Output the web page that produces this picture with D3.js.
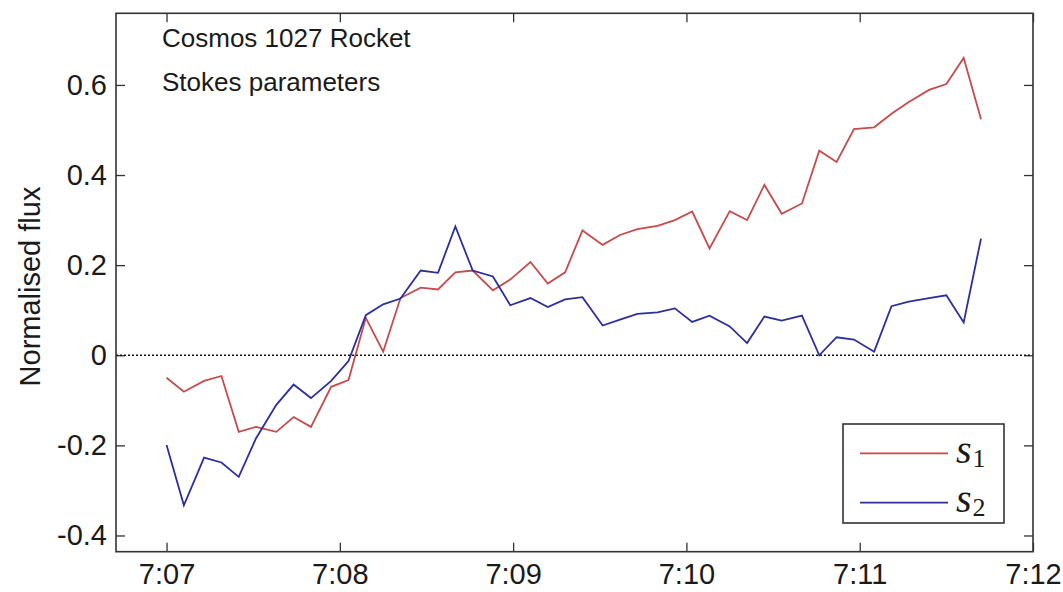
<!DOCTYPE html>
<html>
<head>
<meta charset="utf-8">
<script src="https://cdn.jsdelivr.net/npm/d3@7"></script>
<style>
  html, body { margin: 0; padding: 0; background: #fff; }
  svg { display: block; }
  .sans { font-family: "Liberation Sans", Arial, Helvetica, sans-serif; fill: #1a1a1a; }
  .math { font-family: "Liberation Serif", "DejaVu Serif", serif; fill: #1a1a1a; }
</style>
</head>
<body>
<svg id="chart" width="1063" height="592"></svg>
<script>
// Sample times (UT) of the Stokes parameter measurements
const times = [
  "07:07:00","07:07:06","07:07:13","07:07:19","07:07:25","07:07:31","07:07:38","07:07:44",
  "07:07:50","07:07:57","07:08:03","07:08:09","07:08:15","07:08:21","07:08:28","07:08:34",
  "07:08:40","07:08:46","07:08:53","07:08:59","07:09:06","07:09:12","07:09:18","07:09:24",
  "07:09:31","07:09:37","07:09:43","07:09:50","07:09:56","07:10:02","07:10:08","07:10:15",
  "07:10:21","07:10:27","07:10:33","07:10:40","07:10:46","07:10:52","07:10:58","07:11:05",
  "07:11:11","07:11:17","07:11:24","07:11:30","07:11:36","07:11:42"
];

// Normalised Stokes parameter s1
const s1 = [
  -0.050, -0.081, -0.057, -0.046, -0.170, -0.159, -0.170, -0.137,
  -0.159, -0.070, -0.055,  0.083,  0.008,  0.127,  0.150,  0.146,
   0.184,  0.188,  0.144,  0.168,  0.207,  0.159,  0.184,  0.277,
   0.245,  0.267,  0.280,  0.287,  0.300,  0.319,  0.237,  0.320,
   0.300,  0.378,  0.314,  0.337,  0.454,  0.429,  0.502,  0.506,
   0.536,  0.562,  0.589,  0.602,  0.660,  0.524
];

// Normalised Stokes parameter s2
const s2 = [
  -0.199, -0.333, -0.227, -0.238, -0.270, -0.184, -0.110, -0.065,
  -0.095, -0.057, -0.013,  0.089,  0.113,  0.126,  0.188,  0.183,
   0.286,  0.188,  0.175,  0.111,  0.127,  0.107,  0.124,  0.129,
   0.066,  0.079,  0.092,  0.095,  0.104,  0.074,  0.088,  0.064,
   0.027,  0.086,  0.077,  0.088,  0.000,  0.040,  0.035,  0.008,
   0.109,  0.119,  0.127,  0.133,  0.073,  0.259
];

const yTicks = [-0.4, -0.2, 0, 0.2, 0.4, 0.6];
const yTickLabels = ["-0.4", "-0.2", "0", "0.2", "0.4", "0.6"];
const xTicks = ["07:07:00", "07:08:00", "07:09:00", "07:10:00", "07:11:00", "07:12:00"];
const xTickLabels = ["7:07", "7:08", "7:09", "7:10", "7:11", "7:12"];

const titleLines = ["Cosmos 1027 Rocket", "Stokes parameters"];
const yLabel = "Normalised flux";
const seriesNames = ["1", "2"];

const parseTime = d3.utcParse("%H:%M:%S");
const toDate = s => parseTime(s);

const width = 1063, height = 592;
const margin = { top: 13.3, right: 30, bottom: 40.3, left: 116 };
const iw = width - margin.left - margin.right;
const ih = height - margin.top - margin.bottom;

const colors = ["#c44c4c", "#2c2f9c"];

const svg = d3.select("#chart");
const g = svg.append("g").attr("transform", `translate(${margin.left},${margin.top})`);

const x = d3.scaleUtc()
  .domain([new Date(toDate("07:06:42").getTime() + 500), toDate("07:12:00")])
  .range([0, iw]);
const y = d3.scaleLinear().domain([-0.436, 0.759]).range([ih, 0]);

const xTickDates = xTicks.map(toDate);
const xFmt = d => xTickLabels[xTickDates.findIndex(t => +t === +d)];
const yFmt = v => yTickLabels[yTicks.indexOf(v)];

const tickLen = 9;
const axisFont = 29;

function styleAxis(sel) {
  sel.select(".domain").remove();
  sel.selectAll(".tick line").attr("stroke", "#333").attr("stroke-width", 1.3);
  sel.selectAll(".tick text")
    .attr("class", "sans")
    .attr("font-size", axisFont);
}

// Bottom axis with labels
g.append("g").attr("transform", `translate(0,${ih})`)
  .call(d3.axisBottom(x).tickValues(xTickDates).tickFormat(xFmt).tickSize(-tickLen).tickPadding(12))
  .call(styleAxis);
// Top axis, ticks only
g.append("g")
  .call(d3.axisTop(x).tickValues(xTickDates).tickFormat("").tickSize(-tickLen))
  .call(styleAxis);
// Left axis with labels
g.append("g")
  .call(d3.axisLeft(y).tickValues(yTicks).tickFormat(yFmt).tickSize(-tickLen).tickPadding(9))
  .call(styleAxis);
// Right axis, ticks only
g.append("g").attr("transform", `translate(${iw},0)`)
  .call(d3.axisRight(y).tickValues(yTicks).tickFormat("").tickSize(-tickLen))
  .call(styleAxis);

// Zero reference line
g.append("line")
  .attr("x1", 0).attr("x2", iw)
  .attr("y1", y(0)).attr("y2", y(0))
  .attr("stroke", "#111").attr("stroke-width", 1.3)
  .attr("stroke-dasharray", "2,2");

// Data lines
const line = d3.line()
  .x((d, i) => x(toDate(times[i])))
  .y(d => y(d));

[s1, s2].forEach((series, k) => {
  g.append("path")
    .datum(series)
    .attr("fill", "none")
    .attr("stroke", colors[k])
    .attr("stroke-width", 1.8)
    .attr("stroke-linejoin", "miter")
    .attr("d", line);
});

// Axes frame
g.append("rect")
  .attr("x", 0).attr("y", 0).attr("width", iw).attr("height", ih)
  .attr("fill", "none").attr("stroke", "#333").attr("stroke-width", 1.6);

// Annotation text
titleLines.forEach((t, i) => {
  svg.append("text")
    .attr("class", "sans")
    .attr("x", 162).attr("y", 46.7 + i * 44)
    .attr("font-size", 26)
    .text(t);
});

// Y axis label
svg.append("text")
  .attr("class", "sans")
  .attr("transform", `translate(40,${margin.top + ih / 2 + 4}) rotate(-90)`)
  .attr("text-anchor", "middle")
  .attr("font-size", 29)
  .text(yLabel);

// Legend
const lg = svg.append("g").attr("transform", "translate(843,424)");
lg.append("rect")
  .attr("width", 161).attr("height", 99)
  .attr("fill", "#fff").attr("stroke", "#333").attr("stroke-width", 1.6);
seriesNames.forEach((name, k) => {
  const cy = 29.3 + k * 49.4;
  lg.append("line")
    .attr("x1", 17).attr("x2", 105)
    .attr("y1", cy).attr("y2", cy)
    .attr("stroke", colors[k]).attr("stroke-width", 1.8);
  const txt = lg.append("text")
    .attr("class", "math")
    .attr("x", 113).attr("y", cy + 9.5)
    .attr("font-size", 40);
  txt.append("tspan").attr("font-style", "italic").text("s");
  txt.append("tspan").attr("font-size", 26).attr("dy", 4).attr("dx", 1).text(name);
});
</script>
</body>
</html>
